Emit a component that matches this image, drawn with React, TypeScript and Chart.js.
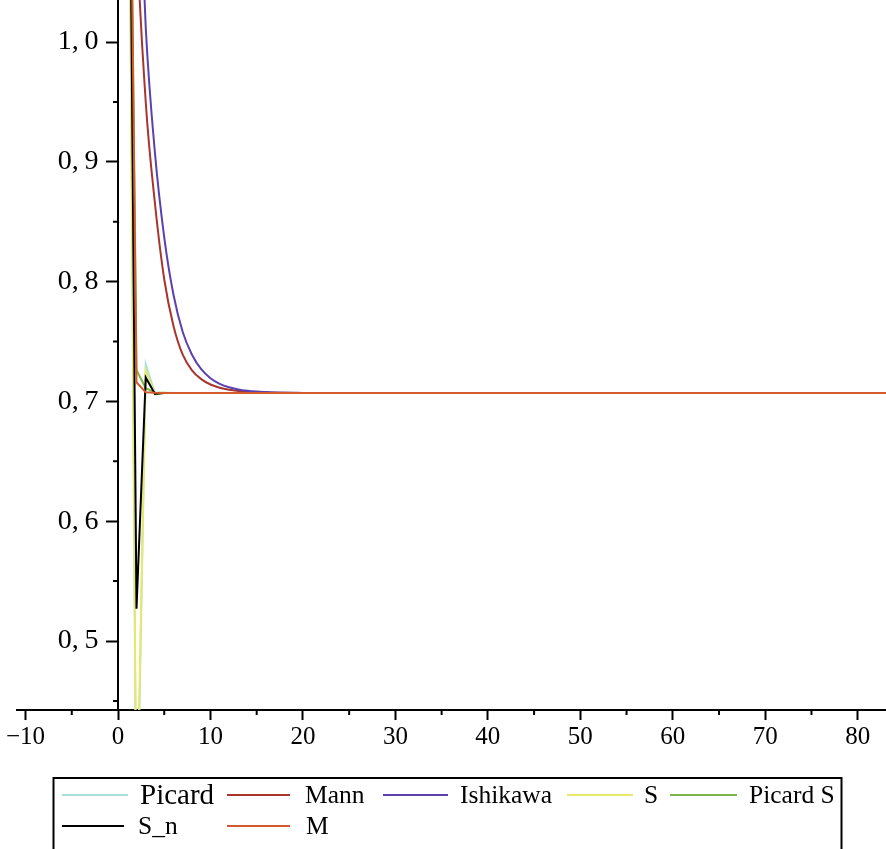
import React, { useEffect, useRef } from 'react';
import { Chart, registerables } from 'chart.js';

Chart.register(...registerables);

// ---- data ----
const seriesLabels = ['Picard', 'Mann', 'Ishikawa', 'S', 'Picard S', 'S_n', 'M'];
const seriesColors = ['#a6dfdc', '#a8352c', '#5b40b0', '#e8e86a', '#7cb648', '#000000', '#d4592c'];

const picardN = [1, 2, 3, 4, 5, 6, 100];
const picardV = [1.414, 0.31, 0.731, 0.7065, 0.7072, 0.7071, 0.7071];

const mannN = [1, 2, 3, 4, 5, 6, 7, 8, 9, 10, 11, 12, 13, 14, 15, 16, 17, 18, 19, 20, 100];
const mannV = [1.414, 1.10, 0.95, 0.865, 0.802, 0.763, 0.739, 0.726, 0.7186, 0.7141, 0.7114, 0.7097, 0.7087, 0.7081, 0.7077, 0.7074, 0.7073, 0.7072, 0.7071, 0.7071, 0.7071];

const ishikawaN = [1, 2, 3, 4, 5, 6, 7, 8, 9, 10, 11, 12, 13, 14, 15, 16, 17, 18, 19, 20, 100];
const ishikawaV = [1.414, 1.2, 1.012, 0.907, 0.837, 0.789, 0.758, 0.739, 0.7269, 0.7194, 0.7147, 0.7118, 0.71, 0.7089, 0.7082, 0.7078, 0.7075, 0.7073, 0.7072, 0.7071, 0.7071];

const sN = [1, 2, 3, 4, 5, 6, 100];
const sV = [1.414, 0.33, 0.726, 0.7056, 0.7072, 0.7071, 0.7071];

const picardSN = [1, 2, 3, 4, 5, 6, 100];
const picardSV = [1.414, 0.726, 0.711, 0.7075, 0.7072, 0.7071, 0.7071];

const snN = [1, 2, 3, 4, 5, 6, 100];
const snV = [1.414, 0.527, 0.72, 0.7062, 0.707, 0.7071, 0.7071];

const mN = [1, 2, 3, 4, 5, 6, 100];
const mV = [1.414, 0.716, 0.7076, 0.7072, 0.7071, 0.7071, 0.7071];

const X_MIN = -10.924;
const X_MAX = 83.06;
const Y_MIN = 0.4424;
const Y_MAX = 1.0351;
const X_STEP = 10;
const Y_STEP = 0.1;

const seriesN = [picardN, mannN, ishikawaN, sN, picardSN, snN, mN];
const seriesV = [picardV, mannV, ishikawaV, sV, picardSV, snV, mV];
const smoothSeries = [false, true, true, false, false, false, false];
const drawOrder = [7, 4, 3, 6, 5, 2, 1];

const FONT = "'Liberation Serif', 'Times New Roman', serif";

const toPts = (n: number[], v: number[]) => n.map((x, i) => ({ x, y: v[i] }));

const minorTicks = {
  id: 'minorTicks',
  afterDraw(chart: any) {
    const { ctx, chartArea, scales } = chart;
    const xs = scales.x;
    const ys = scales.y;
    const x0 = xs.getPixelForValue(0);
    ctx.save();
    ctx.strokeStyle = '#000';
    ctx.lineWidth = 2;
    ctx.beginPath();
    for (let v = -5; v <= X_MAX; v += X_STEP) {
      const px = xs.getPixelForValue(v);
      if (px < chartArea.left || px > chartArea.right) continue;
      ctx.moveTo(px, chartArea.bottom);
      ctx.lineTo(px, chartArea.bottom + 5);
    }
    for (let k = 0; k < 10; k++) {
      const v = 0.45 + k * Y_STEP;
      if (v > Y_MAX) break;
      const py = ys.getPixelForValue(v);
      ctx.moveTo(x0 - 5, py);
      ctx.lineTo(x0, py);
    }
    ctx.stroke();
    ctx.restore();
  },
};

const boxLegend = {
  id: 'boxLegend',
  afterDraw(chart: any) {
    const ctx = chart.ctx;
    const ds = chart.data.datasets;
    const slots = [
      { x1: 62, x2: 128, tx: 140, y: 796, fs: 29 },
      { x1: 227, x2: 290, tx: 305, y: 796, fs: 25.5 },
      { x1: 383, x2: 448, tx: 460, y: 796, fs: 25.5 },
      { x1: 567, x2: 633, tx: 644, y: 796, fs: 25.5 },
      { x1: 670, x2: 737, tx: 749, y: 796, fs: 25.5 },
      { x1: 62, x2: 124, tx: 138, y: 827, fs: 25.5 },
      { x1: 227, x2: 290, tx: 306, y: 827, fs: 25.5 },
    ];
    ctx.save();
    ctx.strokeStyle = '#000';
    ctx.lineWidth = 2;
    ctx.strokeRect(53.5, 778, 788, 100);
    ds.forEach((d: any, i: number) => {
      const s = slots[i];
      ctx.strokeStyle = d.borderColor;
      ctx.lineWidth = 2;
      ctx.beginPath();
      ctx.moveTo(s.x1, s.y - 1);
      ctx.lineTo(s.x2, s.y - 1);
      ctx.stroke();
      ctx.fillStyle = '#000';
      ctx.font = `${s.fs}px ${FONT}`;
      ctx.textBaseline = 'middle';
      ctx.textAlign = 'left';
      ctx.fillText(d.label, s.tx, s.y);
    });
    ctx.restore();
  },
};

export default function App() {
  const ref = useRef<HTMLCanvasElement>(null);
  useEffect(() => {
    document.body.style.margin = '0';
    const canvas = ref.current!;
    const chart = new Chart(canvas, {
      type: 'line',
      data: {
        datasets: seriesLabels.map((label, i) => ({
          label,
          data: toPts(seriesN[i], seriesV[i]),
          borderColor: seriesColors[i],
          backgroundColor: seriesColors[i],
          borderWidth: 2,
          pointRadius: 0,
          tension: smoothSeries[i] ? 0.4 : 0,
          cubicInterpolationMode: smoothSeries[i] ? 'monotone' : 'default',
          fill: false,
          order: drawOrder[i],
        })) as any,
      },
      options: {
        animation: false,
        responsive: false,
        devicePixelRatio: 1,
        events: [],
        layout: { padding: { left: 17, right: 0, top: 0, bottom: 79 } },
        plugins: { legend: { display: false }, tooltip: { enabled: false } },
        scales: {
          x: {
            type: 'linear',
            position: 'bottom',
            min: X_MIN,
            max: X_MAX,
            border: { display: true, color: '#000', width: 2 },
            grid: { display: true, drawOnChartArea: false, drawTicks: true, tickLength: 10, tickWidth: 2, tickColor: '#000' },
            ticks: {
              stepSize: X_STEP,
              includeBounds: false,
              autoSkip: false,
              maxRotation: 0,
              padding: 2,
              color: '#000',
              font: { family: FONT, size: 25 },
              callback: (v: any) => (v < 0 ? '\u2212' + Math.abs(v) : String(v)),
            },
            afterFit: (s: any) => {
              s.height = 60;
              s.paddingLeft = 0;
              s.paddingRight = 0;
            },
          },
          y: {
            type: 'linear',
            position: { x: 0 } as any,
            min: Y_MIN,
            max: Y_MAX,
            border: { display: true, color: '#000', width: 2 },
            grid: { display: true, drawOnChartArea: false, drawTicks: true, tickLength: 11, tickWidth: 2, tickColor: '#000' },
            ticks: {
              stepSize: Y_STEP,
              includeBounds: false,
              autoSkip: false,
              padding: 5,
              color: '#000',
              font: { family: FONT, size: 28 },
              // trailing spaces keep the label clear of the tick marks (axis sits inside the plot)
              callback: (v: any) => Number(v).toFixed(1).replace('.', ',\u2009') + '\u00a0\u00a0\u2009',
            },
            afterFit: (s: any) => {
              s.paddingTop = 0;
              s.paddingBottom = 0;
            },
          },
        },
      },
      plugins: [minorTicks, boxLegend],
    });
    return () => chart.destroy();
  }, []);
  return (
    <div style={{ width: 886, height: 849 }}>
      <canvas ref={ref} width={886} height={849} style={{ display: 'block' }} />
    </div>
  );
}
